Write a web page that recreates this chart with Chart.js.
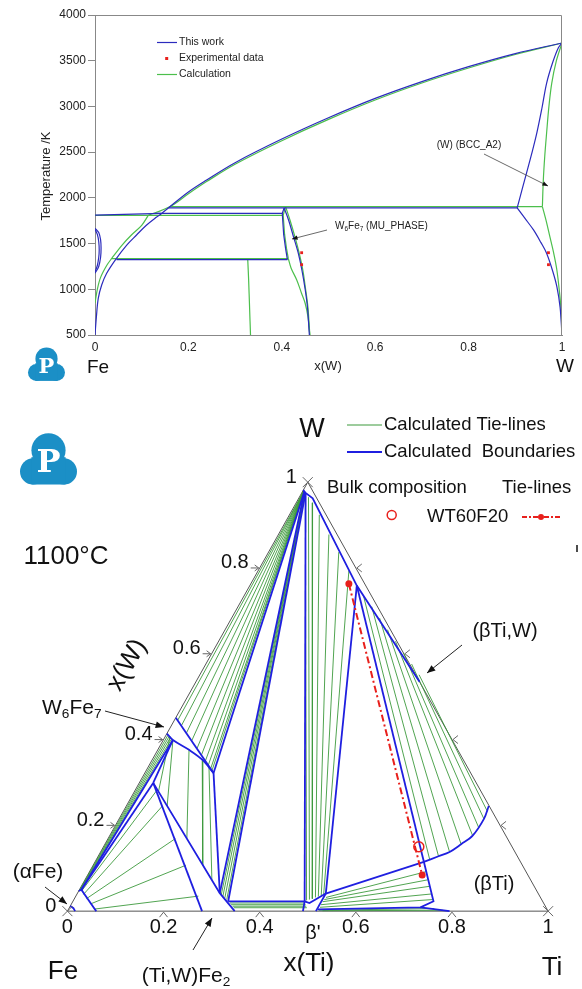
<!DOCTYPE html>
<html>
<head>
<meta charset="utf-8">
<script src="https://cdn.jsdelivr.net/npm/chart.js@4.4.0/dist/chart.umd.min.js"></script>
<style>
  html, body { margin: 0; padding: 0; background: #fff; }
  #wrap { position: relative; width: 582px; height: 989px; overflow: hidden; }
  canvas { position: absolute; left: 0; top: 0; }
</style>
</head>
<body>
<div id="wrap">
  <canvas id="tern_chart" width="582" height="989"></canvas>
  <canvas id="binary_chart" width="582" height="390"></canvas>
</div>
<script>
const FONT = 'Arial, "Liberation Sans", Helvetica, sans-serif';
Chart.defaults.font.family = FONT;

const BLUE_BIN = "#2b2bbd";
const GREEN_BIN = "#4cbf4c";
const RED = "#e8201c";
const BLUE_TERN = "#1f1fe0";
const GREEN_TERN = "#3d9a3d";

//
// Fe-W BINARY DATA  [x(W), T / K]
//
const bin_x_ticks = [0, 0.2, 0.4, 0.6, 0.8, 1];
const bin_x_labels = ["0", "0.2", "0.4", "0.6", "0.8", "1"];
const bin_t_ticks = [500, 1000, 1500, 2000, 2500, 3000, 3500, 4000];

// this work (blue)
const blue_fe_liquidus = [[0, 1811], [0.143, 1830]];
const blue_liquidus = [[0.143, 1830], [0.157, 1890], [0.2, 2065], [0.239, 2195], [0.3, 2385], [0.4, 2643], [0.5, 2876], [0.6, 3088], [0.7, 3272], [0.8, 3435], [0.9, 3578], [1, 3694]];
const blue_peritectic = [[0.157, 1890], [0.904, 1890]];
const blue_eutectic = [[0.13, 1830], [0.402, 1830]];
const blue_laves = [[0.046, 1325], [0.412, 1325]];
const blue_bcc_solvus = [[0, 500], [0.003, 700], [0.007, 900], [0.0143, 1047], [0.025, 1175], [0.046, 1339], [0.068, 1484], [0.089, 1594], [0.11, 1700], [0.132, 1790], [0.143, 1830]];
const blue_gamma_outer = [[0, 1175], [0.008, 1250], [0.012, 1350], [0.013, 1448], [0.012, 1540], [0.008, 1620], [0, 1667]];
const blue_gamma_inner = [[0, 1190], [0.005, 1260], [0.008, 1350], [0.009, 1430], [0.008, 1520], [0.005, 1600], [0, 1655]];
const blue_mu_left = [[0.405, 1890], [0.401, 1830], [0.404, 1600], [0.408, 1450], [0.412, 1325]];
const blue_mu_right = [[0.405, 1890], [0.415, 1750], [0.425, 1575], [0.435, 1400], [0.443, 1211], [0.45, 1000], [0.455, 800], [0.459, 500]];
const blue_w_solvus = [[0.904, 1890], [0.92, 1780], [0.939, 1649], [0.955, 1510], [0.967, 1394], [0.98, 1200], [0.989, 1028], [0.996, 800], [1, 500]];
const blue_w_solidus = [[0.904, 1890], [0.915, 2100], [0.924, 2270], [0.935, 2480], [0.946, 2707], [0.957, 2980], [0.967, 3253], [0.98, 3480], [0.992, 3640], [1, 3694]];

// calculation (green)
const green_eutectic = [[0, 1808], [0.403, 1808]];
const green_liquidus = [[0.114, 1808], [0.161, 1905], [0.2, 2045], [0.239, 2178], [0.3, 2368], [0.4, 2625], [0.5, 2858], [0.6, 3070], [0.7, 3256], [0.8, 3420], [0.9, 3568], [1, 3694]];
const green_peritectic = [[0.161, 1905], [0.958, 1905]];
const green_laves = [[0.036, 1335], [0.414, 1335]];
const green_bcc_solvus = [[0, 850], [0.005, 1000], [0.012, 1130], [0.025, 1260], [0.036, 1339], [0.058, 1484], [0.078, 1594], [0.1, 1700], [0.114, 1808]];
const green_laves_phase = [[0.327, 1335], [0.329, 1100], [0.331, 800], [0.333, 500]];
const green_mu_left = [[0.408, 1905], [0.403, 1808], [0.406, 1600], [0.41, 1450], [0.414, 1335]];
const green_mu_right = [[0.408, 1905], [0.418, 1750], [0.428, 1575], [0.437, 1400], [0.445, 1211], [0.451, 1000], [0.456, 800], [0.46, 500]];
const green_mu_lower = [[0.414, 1335], [0.42, 1230], [0.432, 1102], [0.442, 960], [0.45, 847], [0.456, 700], [0.46, 500]];
const green_w_solidus = [[0.958, 1905], [0.96, 2196], [0.963, 2450], [0.967, 2707], [0.972, 3000], [0.978, 3253], [0.988, 3500], [1, 3694]];
const green_w_solvus = [[0.958, 1905], [0.966, 1750], [0.974, 1575], [0.982, 1400], [0.989, 1211], [0.995, 950], [0.998, 773], [1, 500]];

// experimental data
const exp_points = [[0.4425, 1400], [0.4425, 1269], [0.971, 1400], [0.971, 1269]];

//
// Fe-Ti-W 1100 C ISOTHERMAL SECTION  [x(Ti), x(W)]
//
const tern_ticks = [0.2, 0.4, 0.6, 0.8];
const tern_tick_values = [0, 0.2, 0.4, 0.6, 0.8, 1];
const tern_tick_labels = ["0", "0.2", "0.4", "0.6", "0.8", "1"];

const mu_bounds = [
    [[0, 0.451], [0.143, 0.322]]
];
const alpha_bounds = [
    [[0, 0.012], [0.009, 0.007], [0.016, 0]],
    [[0, 0.047], [0.004, 0.05], [0.06, 0]],
    [[0.004, 0.05], [0.02, 0.399]],
    [[0.004, 0.05], [0.029, 0.299]]
];
const laves_bounds = [
    [[0.02, 0.399], [0.029, 0.299]],
    [[0.029, 0.299], [0.28, 0]],
    [[0.029, 0.299], [0.296, 0.042], [0.348, 0]],
    [[0.143, 0.322], [0.296, 0.042]],
    [[0.323, 0.023], [0.482, 0.023]]
];
const w_bounds = [
    [[0.004, 0.978], [0.143, 0.322]],
    [[0.004, 0.978], [0.296, 0.042]],
    [[0.008, 0.975], [0.323, 0.023]],
    [[0.008, 0.975], [0.482, 0.023]],
    [[0, 0.982], [0.004, 0.978], [0.008, 0.975], [0.029, 0.9625], [0.2225, 0.759], [0.465, 0.535]],
    [[0.2225, 0.759], [0.517, 0.041]],
    [[0.2225, 0.759], [0.684, 0.115]]
];
const beta_bounds = [
    [[0.482, 0.023], [0.494, 0.019], [0.517, 0.041]],
    [[0.482, 0.023], [0.49, 0]],
    [[0.517, 0.041], [0.517, 0]],
    [[0.684, 0.115], [0.517, 0.041]],
    [[0.684, 0.115], [0.75, 0.023], [0.73, 0.009], [0.519, 0.004]],
    [[0.73, 0.009], [0.795, 0]]
];
const curved_bounds = [
    [[0, 0.414], [0.02, 0.399], [0.065, 0.376], [0.104, 0.353], [0.143, 0.322]],
    [[0.684, 0.115], [0.708, 0.128], [0.726, 0.138], [0.741, 0.156], [0.755, 0.176], [0.759, 0.215], [0.754, 0.245]]
];

const alpha_mu_ties = [
    [[0.0008, 0.047], [0.004, 0.41]],
    [[0.0016, 0.048], [0.008, 0.407]],
    [[0.0024, 0.0485], [0.012, 0.404]],
    [[0.0032, 0.049], [0.016, 0.401]]
];
const alpha_laves_ties = [
    [[0.006, 0.047], [0.045, 0.28]],
    [[0.014, 0.039], [0.075, 0.245]],
    [[0.025, 0.029], [0.14, 0.169]],
    [[0.04, 0.017], [0.193, 0.107]],
    [[0.055, 0.005], [0.255, 0.035]]
];
const mu_laves_ties = [
    [[0.01, 0.407], [0.05, 0.279]],
    [[0.02, 0.399], [0.085, 0.245]],
    [[0.065, 0.376], [0.164, 0.169]],
    [[0.104, 0.353], [0.228, 0.107]],
    [[0.126, 0.337], [0.264, 0.073]]
];
const w_mu_ties = [
    [[0.002, 0.979], [0.007, 0.445]],
    [[0.002, 0.979], [0.021, 0.432]],
    [[0.002, 0.979], [0.04, 0.415]],
    [[0.002, 0.979], [0.06, 0.397]],
    [[0.002, 0.979], [0.08, 0.379]],
    [[0.002, 0.979], [0.097, 0.363]],
    [[0.002, 0.979], [0.112, 0.35]],
    [[0.002, 0.979], [0.123, 0.34]],
    [[0.002, 0.979], [0.132, 0.332]],
    [[0.002, 0.979], [0.137, 0.327]]
];
const w_laves_ties = [
    [[0.005, 0.977], [0.301, 0.038]],
    [[0.006, 0.976], [0.306, 0.035]],
    [[0.006, 0.976], [0.312, 0.031]],
    [[0.007, 0.975], [0.318, 0.027]]
];
const w_beta_ties = [
    [[0.009, 0.972], [0.485, 0.025]],
    [[0.019, 0.965], [0.49, 0.027]],
    [[0.034, 0.952], [0.495, 0.029]],
    [[0.062, 0.924], [0.5, 0.032]],
    [[0.105, 0.878], [0.505, 0.034]],
    [[0.146, 0.837], [0.51, 0.036]],
    [[0.189, 0.793], [0.514, 0.038]]
];
const laves_beta_ties = [
    [[0.328, 0.019], [0.484, 0.019]],
    [[0.333, 0.015], [0.488, 0.015]],
    [[0.338, 0.0115], [0.491, 0.0115]],
    [[0.342, 0.008], [0.494, 0.008]]
];
const bcc_gap_ties = [
    [[0.247, 0.737], [0.693, 0.121]],
    [[0.278, 0.71], [0.708, 0.128]],
    [[0.308, 0.683], [0.726, 0.138]],
    [[0.338, 0.656], [0.741, 0.156]],
    [[0.368, 0.629], [0.755, 0.176]],
    [[0.398, 0.602], [0.758, 0.195]],
    [[0.428, 0.576], [0.759, 0.215]],
    [[0.456, 0.551], [0.756, 0.234]]
];
const beta_ti_ties = [
    [[0.522, 0.032], [0.7, 0.092]],
    [[0.521, 0.027], [0.713, 0.073]],
    [[0.52, 0.022], [0.725, 0.058]],
    [[0.52, 0.015], [0.737, 0.04]],
    [[0.521, 0.009], [0.746, 0.027]]
];
const base_ties = [
    [[0.522, 0.002], [0.76, 0.006]],
    [[0.53, 0.001], [0.78, 0.002]]
];

const exp_tie_line = [[0.204, 0.763], [0.696, 0.084]];
const bulk_composition = [[0.656, 0.15]];

//
// UTILITIES
//
function bin_set(pts, color, smooth, order) {
    return {
        data: pts.map(p => ({ x: p[0], y: p[1] })),
        showLine: true,
        borderColor: color,
        borderWidth: 1.2,
        pointRadius: 0,
        tension: smooth ? 0.35 : 0,
        order: order
    };
}

function tern_xy(p) {
    return { x: p[0] + p[1] / 2, y: p[1] };
}

function tern_sets(lines, color, width, order, smooth) {
    return lines.map(line => ({
        data: line.map(tern_xy),
        showLine: true,
        borderColor: color,
        borderWidth: width,
        pointRadius: 0,
        tension: smooth ? 0.35 : 0,
        order: order
    }));
}

function tern_px(chart, ti, w) {
    const q = tern_xy([ti, w]);
    return { x: chart.scales.x.getPixelForValue(q.x), y: chart.scales.y.getPixelForValue(q.y) };
}

function draw_arrow(ctx, x1, y1, x2, y2, head) {
    const ang = Math.atan2(y2 - y1, x2 - x1);
    ctx.beginPath();
    ctx.moveTo(x1, y1);
    ctx.lineTo(x2, y2);
    ctx.stroke();
    ctx.beginPath();
    ctx.moveTo(x2, y2);
    ctx.lineTo(x2 - head * Math.cos(ang - 0.38), y2 - head * Math.sin(ang - 0.38));
    ctx.lineTo(x2 - head * Math.cos(ang + 0.38), y2 - head * Math.sin(ang + 0.38));
    ctx.closePath();
    ctx.fill();
}

// parts: [text, is_subscript]
function draw_rich(ctx, parts, x, y, size, align) {
    const sub = size * 0.65;
    let total = 0;
    parts.forEach(p => {
        ctx.font = (p[1] ? sub : size) + "px " + FONT;
        total += ctx.measureText(p[0]).width;
    });
    let cx = align === "center" ? x - total / 2 : x;
    ctx.textAlign = "left";
    ctx.textBaseline = "middle";
    parts.forEach(p => {
        ctx.font = (p[1] ? sub : size) + "px " + FONT;
        ctx.fillText(p[0], cx, p[1] ? y + size * 0.32 : y);
        cx += ctx.measureText(p[0]).width;
    });
}

function draw_text(ctx, txt, x, y, size, align) {
    ctx.font = size + "px " + FONT;
    ctx.textAlign = align || "center";
    ctx.textBaseline = "middle";
    ctx.fillText(txt, x, y);
}

function draw_logo(ctx, cx, cy, s) {
    ctx.save();
    ctx.fillStyle = "#1b8fc6";
    const blobs = [[0, -0.17, 0.3], [-0.27, 0.2, 0.23], [0.27, 0.2, 0.23]];
    blobs.forEach(b => {
        ctx.beginPath();
        ctx.arc(cx + b[0] * s, cy + b[1] * s, b[2] * s, 0, Math.PI * 2);
        ctx.fill();
    });
    ctx.fillRect(cx - 0.3 * s, cy - 0.05 * s, 0.6 * s, 0.48 * s);
    ctx.fillStyle = "#fff";
    ctx.font = "bold " + Math.round(0.56 * s) + 'px "DejaVu Serif", "Liberation Serif", serif';
    ctx.textAlign = "center";
    ctx.textBaseline = "middle";
    ctx.fillText("P", cx, cy + 0.06 * s);
    ctx.restore();
}

//
// BINARY DECORATION
//
const binary_decor = {
    id: "binary_decor",
    afterDraw(chart) {
        const ctx = chart.ctx;
        const a = chart.chartArea;
        ctx.save();
        ctx.strokeStyle = "#888";
        ctx.lineWidth = 1;
        ctx.beginPath();
        ctx.moveTo(a.left, a.top + 0.5);
        ctx.lineTo(a.right - 0.5, a.top + 0.5);
        ctx.lineTo(a.right - 0.5, a.bottom);
        ctx.stroke();

        // legend
        ctx.lineWidth = 1.2;
        ctx.strokeStyle = BLUE_BIN;
        ctx.beginPath(); ctx.moveTo(157, 42.5); ctx.lineTo(177, 42.5); ctx.stroke();
        ctx.strokeStyle = GREEN_BIN;
        ctx.beginPath(); ctx.moveTo(157, 74.5); ctx.lineTo(177, 74.5); ctx.stroke();
        ctx.fillStyle = RED;
        ctx.fillRect(165.2, 57, 3, 3);
        ctx.fillStyle = "#222";
        draw_text(ctx, "This work", 179, 42.5, 10.5, "left");
        draw_text(ctx, "Experimental data", 179, 58.5, 10.5, "left");
        draw_text(ctx, "Calculation", 179, 74.5, 10.5, "left");

        // annotations
        draw_text(ctx, "(W) (BCC_A2)", 469, 145, 10, "center");
        draw_rich(ctx, [["W", 0], ["6", 1], ["Fe", 0], ["7", 1], [" (MU_PHASE)", 0]], 335, 226, 10, "left");
        ctx.strokeStyle = "#444";
        ctx.fillStyle = "#111";
        ctx.lineWidth = 0.8;
        draw_arrow(ctx, 484, 154, 548, 186, 6);
        draw_arrow(ctx, 327, 230, 292, 239, 6);

        // axis titles
        ctx.fillStyle = "#222";
        draw_text(ctx, "x(W)", 328, 366, 13, "center");
        ctx.save();
        ctx.translate(46, 176);
        ctx.rotate(-Math.PI / 2);
        draw_text(ctx, "Temperature /K", 0, 0, 13, "center");
        ctx.restore();
        ctx.fillStyle = "#111";
        draw_text(ctx, "Fe", 98, 368, 19, "center");
        draw_text(ctx, "W", 565, 367, 19, "center");
        ctx.restore();

        draw_logo(ctx, 46.5, 365, 37);
    }
};

//
// TERNARY DECORATION
//
const tern_decor = {
    id: "tern_decor",
    beforeDatasetsDraw(chart) {
        const ctx = chart.ctx;
        const fe = tern_px(chart, 0, 0);
        const ti = tern_px(chart, 1, 0);
        const w = tern_px(chart, 0, 1);
        ctx.save();
        ctx.strokeStyle = "#555";
        ctx.lineWidth = 1;
        ctx.beginPath();
        ctx.moveTo(fe.x, fe.y);
        ctx.lineTo(ti.x, ti.y);
        ctx.lineTo(w.x, w.y);
        ctx.closePath();
        ctx.stroke();
        ctx.restore();
    },
    afterDraw(chart) {
        const ctx = chart.ctx;
        ctx.save();

        // ticks
        ctx.strokeStyle = "#666";
        ctx.lineWidth = 1;
        tern_ticks.forEach(t => {
            const l = tern_px(chart, 0, t);
            ctx.beginPath();
            ctx.moveTo(l.x - 9, l.y); ctx.lineTo(l.x - 1, l.y);
            ctx.moveTo(l.x - 5, l.y - 3); ctx.lineTo(l.x - 1, l.y); ctx.lineTo(l.x - 5, l.y + 3);
            ctx.stroke();
            const b = tern_px(chart, t, 0);
            ctx.beginPath();
            ctx.moveTo(b.x - 4, b.y + 6); ctx.lineTo(b.x, b.y + 1); ctx.lineTo(b.x + 4, b.y + 6);
            ctx.stroke();
            const r = tern_px(chart, 1 - t, t);
            ctx.beginPath();
            ctx.moveTo(r.x + 6, r.y - 4); ctx.lineTo(r.x + 1, r.y); ctx.lineTo(r.x + 6, r.y + 4);
            ctx.stroke();
        });
        [[0, 0], [1, 0], [0, 1]].forEach(v => {
            const p = tern_px(chart, v[0], v[1]);
            ctx.beginPath();
            ctx.moveTo(p.x - 5, p.y - 5); ctx.lineTo(p.x + 5, p.y + 5);
            ctx.moveTo(p.x + 5, p.y - 5); ctx.lineTo(p.x - 5, p.y + 5);
            ctx.stroke();
        });

        // tick labels
        ctx.fillStyle = "#111";
        tern_tick_values.forEach((t, i) => {
            const l = tern_px(chart, 0, t);
            draw_text(ctx, tern_tick_labels[i], l.x - 11, l.y - 5, 20, "right");
            const b = tern_px(chart, t, 0);
            draw_text(ctx, tern_tick_labels[i], b.x, b.y + 16, 20, "center");
        });
        draw_text(ctx, "\u03b2'", 313, 933, 20, "center");

        // corner and axis labels
        draw_text(ctx, "W", 312, 430, 27, "center");
        draw_text(ctx, "Fe", 63, 972, 26, "center");
        draw_text(ctx, "Ti", 552, 968, 26, "center");
        draw_text(ctx, "x(Ti)", 309, 964, 26, "center");
        ctx.save();
        ctx.translate(127, 665);
        ctx.rotate(-60.5 * Math.PI / 180);
        draw_text(ctx, "x(W)", 0, 0, 26, "center");
        ctx.restore();
        draw_text(ctx, "1100\u00b0C", 66, 557, 26, "center");

        // phase labels and arrows
        draw_rich(ctx, [["W", 0], ["6", 1], ["Fe", 0], ["7", 1]], 42, 708, 21, "left");
        draw_text(ctx, "(\u03b1Fe)", 38, 872, 21, "center");
        draw_rich(ctx, [["(Ti,W)Fe", 0], ["2", 1]], 186, 976, 21, "center");
        draw_text(ctx, "(\u03b2Ti,W)", 505, 631, 20, "center");
        draw_text(ctx, "(\u03b2Ti)", 494, 884, 20, "center");
        ctx.strokeStyle = "#222";
        ctx.lineWidth = 1;
        draw_arrow(ctx, 105, 711, 164, 727, 9);
        draw_arrow(ctx, 45, 887, 67, 904, 9);
        draw_arrow(ctx, 193, 950, 212, 918, 9);
        draw_arrow(ctx, 462, 645, 427, 673, 9);

        // legend
        ctx.lineWidth = 1.2;
        ctx.strokeStyle = GREEN_TERN;
        ctx.beginPath(); ctx.moveTo(347, 425); ctx.lineTo(382, 425); ctx.stroke();
        ctx.lineWidth = 2;
        ctx.strokeStyle = BLUE_TERN;
        ctx.beginPath(); ctx.moveTo(347, 452); ctx.lineTo(382, 452); ctx.stroke();
        draw_text(ctx, "Calculated Tie-lines", 384, 425, 18.5, "left");
        draw_text(ctx, "Calculated  Boundaries", 384, 452, 18.5, "left");
        draw_text(ctx, "Bulk composition", 327, 488, 18.5, "left");
        draw_text(ctx, "Tie-lines", 502, 488, 18.5, "left");
        draw_text(ctx, "WT60F20", 427, 517, 18.5, "left");
        ctx.strokeStyle = RED;
        ctx.lineWidth = 1.5;
        ctx.beginPath(); ctx.arc(391.7, 515, 4.5, 0, Math.PI * 2); ctx.stroke();
        ctx.lineWidth = 2;
        ctx.setLineDash([5, 2, 2, 2]);
        ctx.beginPath(); ctx.moveTo(522, 517); ctx.lineTo(560, 517); ctx.stroke();
        ctx.setLineDash([]);
        ctx.fillStyle = RED;
        ctx.beginPath(); ctx.arc(541, 517, 3, 0, Math.PI * 2); ctx.fill();
        ctx.strokeStyle = "#111";
        ctx.lineWidth = 1.5;
        ctx.beginPath(); ctx.moveTo(577, 545); ctx.lineTo(577, 552); ctx.stroke();
        ctx.restore();

        draw_logo(ctx, 48.5, 460, 57);
    }
};

//
// BINARY CHART
//
new Chart(document.getElementById("binary_chart"), {
    type: "scatter",
    data: {
        datasets: [
            {
                data: exp_points.map(p => ({ x: p[0], y: p[1] })),
                pointStyle: "rect",
                pointRadius: 2,
                backgroundColor: RED,
                borderWidth: 0,
                showLine: false,
                order: 0
            },
            bin_set(blue_fe_liquidus, BLUE_BIN, false, 1),
            bin_set(blue_liquidus, BLUE_BIN, true, 1),
            bin_set(blue_peritectic, BLUE_BIN, false, 1),
            bin_set(blue_eutectic, BLUE_BIN, false, 1),
            bin_set(blue_laves, BLUE_BIN, false, 1),
            bin_set(blue_bcc_solvus, BLUE_BIN, true, 1),
            bin_set(blue_gamma_outer, BLUE_BIN, true, 1),
            bin_set(blue_gamma_inner, BLUE_BIN, true, 1),
            bin_set(blue_mu_left, BLUE_BIN, false, 1),
            bin_set(blue_mu_right, BLUE_BIN, true, 1),
            bin_set(blue_w_solvus, BLUE_BIN, true, 1),
            bin_set(blue_w_solidus, BLUE_BIN, true, 1),
            bin_set(green_eutectic, GREEN_BIN, false, 2),
            bin_set(green_liquidus, GREEN_BIN, true, 2),
            bin_set(green_peritectic, GREEN_BIN, false, 2),
            bin_set(green_laves, GREEN_BIN, false, 2),
            bin_set(green_bcc_solvus, GREEN_BIN, true, 2),
            bin_set(green_laves_phase, GREEN_BIN, true, 2),
            bin_set(green_mu_left, GREEN_BIN, false, 2),
            bin_set(green_mu_right, GREEN_BIN, true, 2),
            bin_set(green_mu_lower, GREEN_BIN, true, 2),
            bin_set(green_w_solidus, GREEN_BIN, true, 2),
            bin_set(green_w_solvus, GREEN_BIN, true, 2)
        ]
    },
    options: {
        responsive: false,
        animation: false,
        events: [],
        layout: { padding: { top: 15, right: 20, left: 0, bottom: 0 } },
        plugins: { legend: { display: false }, tooltip: { enabled: false } },
        scales: {
            x: {
                type: "linear",
                min: 0,
                max: 1,
                afterFit: s => { s.height = 55; },
                afterBuildTicks: s => { s.ticks = bin_x_ticks.map(v => ({ value: v })); },
                ticks: {
                    color: "#222",
                    font: { size: 12 },
                    padding: 5,
                    maxRotation: 0,
                    callback: (v, i) => bin_x_labels[i]
                },
                grid: { display: true, drawOnChartArea: false, drawTicks: false },
                border: { display: true, color: "#888" }
            },
            y: {
                type: "linear",
                min: 500,
                max: 4000,
                afterFit: s => { s.width = 95; },
                afterBuildTicks: s => { s.ticks = bin_t_ticks.map(v => ({ value: v })); },
                ticks: { color: "#222", font: { size: 12 }, padding: 2, callback: v => String(v) },
                grid: { display: true, drawOnChartArea: false, drawTicks: true, tickLength: 7, color: "#888" },
                border: { display: true, color: "#888" }
            }
        }
    },
    plugins: [binary_decor]
});

//
// TERNARY CHART
//
const tern_blue_lines = [...mu_bounds, ...alpha_bounds, ...laves_bounds, ...w_bounds, ...beta_bounds];
const tern_ties = [
    ...alpha_mu_ties, ...alpha_laves_ties, ...mu_laves_ties, ...w_mu_ties, ...w_laves_ties,
    ...w_beta_ties, ...laves_beta_ties, ...bcc_gap_ties, ...beta_ti_ties, ...base_ties
];

new Chart(document.getElementById("tern_chart"), {
    type: "scatter",
    data: {
        datasets: [
            {
                data: exp_tie_line.map(tern_xy),
                showLine: true,
                borderColor: RED,
                borderWidth: 2,
                borderDash: [7, 3, 2, 3],
                pointRadius: 3.5,
                pointBackgroundColor: RED,
                pointBorderWidth: 0,
                order: 0
            },
            {
                data: bulk_composition.map(tern_xy),
                showLine: false,
                pointStyle: "circle",
                pointRadius: 5,
                borderColor: RED,
                borderWidth: 1.5,
                backgroundColor: "rgba(0,0,0,0)",
                order: 0
            },
            ...tern_sets(tern_blue_lines, BLUE_TERN, 1.8, 1, false),
            ...tern_sets(curved_bounds, BLUE_TERN, 1.8, 1, true),
            ...tern_sets(tern_ties, GREEN_TERN, 0.9, 2, false)
        ]
    },
    options: {
        responsive: false,
        animation: false,
        events: [],
        layout: { padding: 0 },
        plugins: { legend: { display: false }, tooltip: { enabled: false } },
        scales: {
            x: { type: "linear", min: -0.1267, max: 1.05695, display: false },
            y: { type: "linear", min: -0.16632, max: 2.10881, display: false }
        }
    },
    plugins: [tern_decor]
});
</script>
</body>
</html>
